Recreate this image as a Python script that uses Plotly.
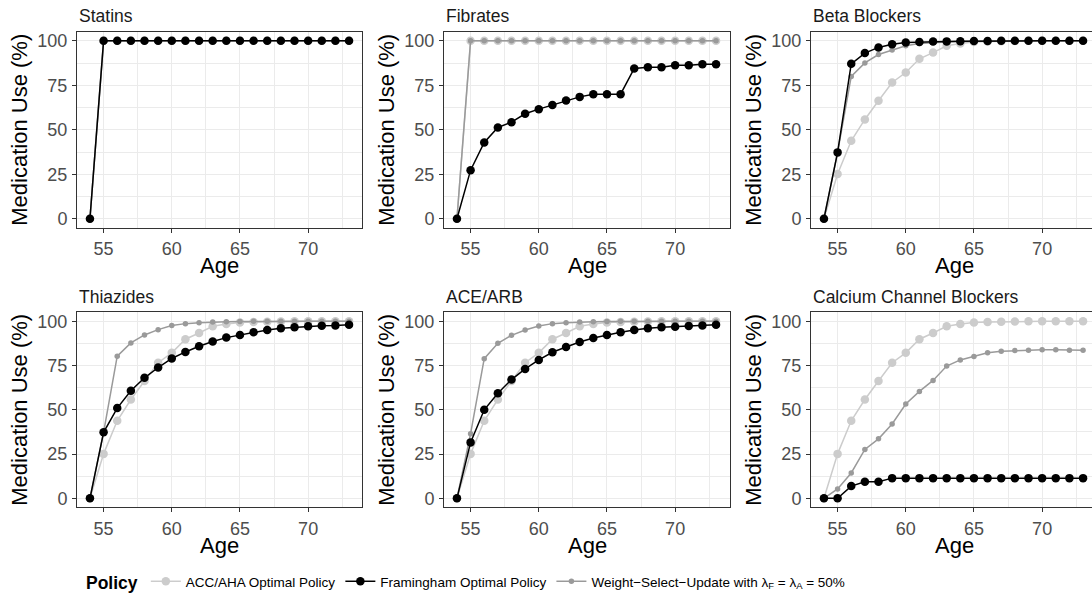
import plotly.graph_objects as go

ages = [54, 55, 56, 57, 58, 59, 60, 61, 62, 63, 64, 65, 66, 67, 68, 69, 70, 71, 72, 73]

panels = ["Statins", "Fibrates", "Beta Blockers", "Thiazides", "ACE/ARB", "Calcium Channel Blockers"]
policies = ["ACC/AHA Optimal Policy", "Framingham Optimal Policy",
            "Weight\u2212Select\u2212Update with \u03bb<sub>F</sub> = \u03bb<sub>A</sub> = 50%"]

# ---- values (% medication use) ----
statins_acc = [0, 100, 100, 100, 100, 100, 100, 100, 100, 100, 100, 100, 100, 100, 100, 100, 100, 100, 100, 100]
statins_fram = [0, 100, 100, 100, 100, 100, 100, 100, 100, 100, 100, 100, 100, 100, 100, 100, 100, 100, 100, 100]
statins_wsu = [0, 100, 100, 100, 100, 100, 100, 100, 100, 100, 100, 100, 100, 100, 100, 100, 100, 100, 100, 100]

fibrates_acc = [0, 100, 100, 100, 100, 100, 100, 100, 100, 100, 100, 100, 100, 100, 100, 100, 100, 100, 100, 100]
fibrates_fram = [0, 27.3, 42.9, 51.3, 54.3, 59.0, 61.6, 63.9, 66.5, 68.5, 70.0, 70.0, 70.0, 84.5, 85.2, 85.2, 86.3, 86.3, 86.9, 86.9]
fibrates_wsu = [0, 100, 100, 100, 100, 100, 100, 100, 100, 100, 100, 100, 100, 100, 100, 100, 100, 100, 100, 100]

beta_acc = [0, 25.1, 43.8, 55.8, 66.3, 76.6, 82.2, 89.9, 93.4, 97.2, 98.5, 99.3, 99.6, 99.8, 99.9, 100, 100, 100, 100, 100]
beta_fram = [0, 37.3, 87.1, 93.1, 96.3, 98.1, 99.1, 99.4, 99.6, 99.7, 99.8, 99.9, 99.9, 100, 100, 100, 100, 100, 100, 100]
beta_wsu = [0, 37.3, 80.0, 87.6, 92.3, 94.9, 97.2, 98.5, 99.1, 99.4, 99.6, 99.8, 99.9, 100, 100, 100, 100, 100, 100, 100]

thiaz_acc = [0, 25.1, 43.8, 55.8, 66.3, 76.6, 82.2, 89.9, 93.4, 97.2, 98.5, 99.3, 99.6, 99.8, 99.9, 100, 100, 100, 100, 100]
thiaz_fram = [0, 37.3, 51.0, 60.8, 68.1, 73.9, 79.0, 82.7, 85.9, 88.6, 90.8, 92.3, 93.8, 95.1, 96.1, 96.6, 97.2, 97.5, 97.7, 98.1]
thiaz_wsu = [0, 37.3, 80.3, 87.8, 92.3, 95.3, 97.6, 98.7, 99.2, 99.6, 99.8, 99.9, 100, 100, 100, 100, 100, 100, 100, 100]

ace_acc = [0, 25.1, 43.8, 55.8, 66.3, 76.6, 82.2, 89.9, 93.4, 97.2, 98.5, 99.3, 99.6, 99.8, 99.9, 100, 100, 100, 100, 100]
ace_fram = [0, 31.6, 50.0, 59.4, 67.1, 73.1, 78.2, 82.5, 85.5, 88.3, 90.6, 92.3, 93.8, 95.1, 96.1, 96.6, 97.0, 97.4, 97.7, 98.1]
ace_wsu = [0, 36.5, 78.9, 87.6, 92.1, 95.1, 97.4, 98.7, 99.2, 99.6, 99.8, 99.9, 100, 100, 100, 100, 100, 100, 100, 100]

ccb_acc = [0, 25.1, 43.8, 55.8, 66.3, 76.6, 82.2, 89.9, 93.4, 97.2, 98.5, 99.3, 99.6, 99.8, 99.9, 100, 100, 100, 100, 100]
ccb_fram = [0, 0, 6.9, 9.4, 9.4, 11.4, 11.4, 11.4, 11.4, 11.4, 11.4, 11.4, 11.4, 11.4, 11.4, 11.4, 11.4, 11.4, 11.4, 11.4]
ccb_wsu = [0, 5.3, 14.3, 27.6, 33.6, 42.0, 53.3, 60.4, 66.6, 74.7, 78.2, 80.1, 82.2, 83.1, 83.5, 83.7, 83.9, 83.9, 83.7, 83.7]

panel_data = [
    (statins_acc, statins_fram, statins_wsu),
    (fibrates_acc, fibrates_fram, fibrates_wsu),
    (beta_acc, beta_fram, beta_wsu),
    (thiaz_acc, thiaz_fram, thiaz_wsu),
    (ace_acc, ace_fram, ace_wsu),
    (ccb_acc, ccb_fram, ccb_wsu),
]

W, H = 1092, 599
FONT = "Liberation Sans, Arial, sans-serif"

# panel pixel boxes (left, right) and (top, bottom); the last column is cut by the page edge
col_px = [(77, 362), (444, 730), (811, 1092)]
col_full_right = [362, 730, 1097]
row_px = [(32, 228), (313, 508)]
age_title_y = [266, 546]
px_per_unit = 285 / 20.9
x0 = 53.05

styles = {
    0: dict(color="#CCCCCC", size=8.5, width=1.5, rank=1),   # ACC/AHA
    1: dict(color="#000000", size=8.5, width=1.5, rank=2),   # Framingham
    2: dict(color="#9A9A9A", size=5.5, width=1.5, rank=3),   # WSU
}
draw_order = [0, 2, 1]

fig = go.Figure()
layout = {}
annotations = []

for i, name in enumerate(panels):
    r, c = divmod(i, 3)
    idx = i + 1
    xa = "x" if idx == 1 else f"x{idx}"
    ya = "y" if idx == 1 else f"y{idx}"
    for k in draw_order:
        st = styles[k]
        fig.add_trace(go.Scatter(
            x=ages, y=panel_data[i][k], xaxis=xa, yaxis=ya,
            mode="lines+markers", name=policies[k], legendgroup=str(k),
            legendrank=st["rank"], showlegend=(i == 0),
            line=dict(color=st["color"], width=st["width"]),
            marker=dict(color=st["color"], size=st["size"]),
            hoverinfo="skip",
        ))
    l, rt = col_px[c]
    t, b = row_px[r]
    xr_right = x0 + (rt - l) / px_per_unit
    axis_common = dict(
        showline=True, linecolor="#333333", linewidth=1, mirror=True,
        ticks="outside", ticklen=4, tickwidth=1, tickcolor="#333333",
        tickfont=dict(family=FONT, size=18, color="#4D4D4D"),
        showgrid=True, gridcolor="#EBEBEB", gridwidth=1.1, zeroline=False,
        ticklabelstandoff=1,
    )
    layout[f"xaxis{idx if idx > 1 else ''}"] = dict(
        axis_common, domain=[l / W, rt / W], range=[x0, xr_right], anchor=ya,
        tickmode="array", tickvals=[55, 60, 65, 70],
        minor=dict(tickmode="array", tickvals=[57.5, 62.5, 67.5, 72.5], showgrid=True,
                   gridcolor="#EBEBEB", gridwidth=0.6, ticks=""),
    )
    layout[f"yaxis{idx if idx > 1 else ''}"] = dict(
        axis_common, domain=[1 - b / H, 1 - t / H], range=[-5, 105], anchor=xa,
        tickmode="array", tickvals=[0, 25, 50, 75, 100],
        minor=dict(tickmode="array", tickvals=[12.5, 37.5, 62.5, 87.5], showgrid=True,
                   gridcolor="#EBEBEB", gridwidth=0.6, ticks=""),
        title=dict(text="Medication Use (%)", font=dict(family=FONT, size=22, color="#000000"), standoff=3),
    )
    # facet strip title
    annotations.append(dict(
        text=name, xref="paper", yref="paper", x=l / W, y=1 - (t - 15.5) / H,
        xanchor="left", yanchor="middle", showarrow=False,
        font=dict(family=FONT, size=17.5, color="#1A1A1A"),
    ))
    # x-axis title
    annotations.append(dict(
        text="Age", xref="paper", yref="paper",
        x=(l + col_full_right[c]) / 2 / W, y=1 - age_title_y[r] / H,
        xanchor="center", yanchor="middle", showarrow=False,
        font=dict(family=FONT, size=22, color="#000000"),
    ))

fig.update_layout(
    **layout,
    annotations=annotations,
    width=W, height=H,
    margin=dict(l=0, r=0, t=0, b=0),
    paper_bgcolor="white", plot_bgcolor="white",
    font=dict(family=FONT, color="#000000"),
    showlegend=True,
    legend=dict(
        orientation="h", x=84 / W, xanchor="left", y=1 - 583 / H, yanchor="middle",
        title=dict(text="<b>Policy</b>", font=dict(family=FONT, size=17.5, color="#000000"), side="left"),
        font=dict(family=FONT, size=13.5, color="#000000"),
        itemwidth=30, tracegroupgap=0, bgcolor="rgba(0,0,0,0)",
    ),
)

fig.write_html("out.html")
